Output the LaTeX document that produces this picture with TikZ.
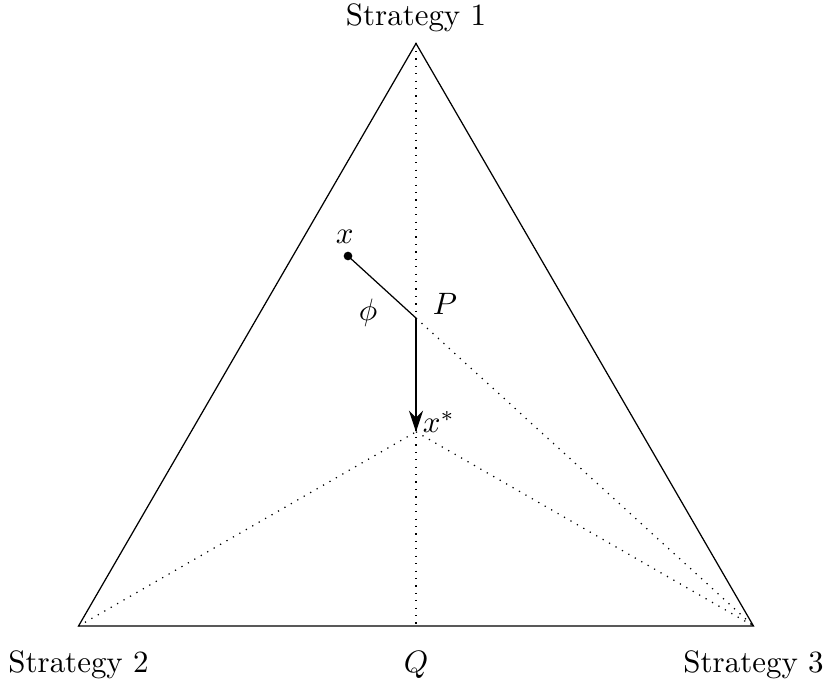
\documentclass[tikz,border=0pt]{standalone}
\usetikzlibrary{arrows.meta,positioning}

\begin{document}
\begin{tikzpicture}[>={Stealth[length=2.4mm,width=1.6mm]}]
        \useasboundingbox (-4.727,-0.625) rectangle (4.670,7.114);
        \coordinate (s1) at (0,6.62);
        \coordinate (s2) at (-3.835,0);
        \coordinate (s3) at (3.835,0);
        \coordinate (q) at (0,0);
        \coordinate (xs) at (0,2.207);
        \coordinate (p) at (0,3.5);
        \coordinate (x) at (-0.773,4.205);
        \draw (s1) -- (s2) -- (s3) -- cycle;
        \foreach \a/\b in {s1/q,s2/xs,xs/s3,p/s3} \draw[dotted] (\a)--(\b);
        \draw (x) -- (p);
        \draw[->] (p) -- (xs);
        \fill (x) circle (1.4pt);
        \node[above=0.3pt of s1] (l1) {Strategy 1};
        \node[below=4.5pt of s2] (l2) {Strategy 2};
        \node[below=4.5pt of s3] (l3) {Strategy 3};
        \node[below=4.5pt of q] (lq) {$Q$};
        \node at (-0.81,4.42) (lx) {$x$};
        \node at (-0.545,3.56) (lphi) {$\phi$};
        \node at (0.33,3.66) (lp) {$P$};
        \node at (0.26,2.32) (lxs) {$x^*$};
      \end{tikzpicture}
\end{document}
